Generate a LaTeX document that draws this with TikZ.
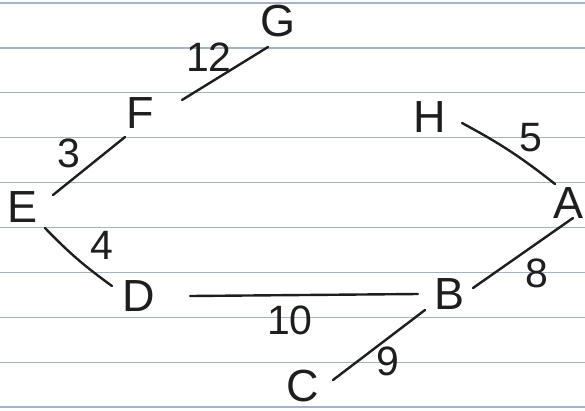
\documentclass[tikz,border=0pt]{standalone}
\usepackage{fontspec}
\setmainfont{Liberation Sans}
\usetikzlibrary{calc}
\definecolor{ink}{HTML}{1E1E1E}
\definecolor{rule}{HTML}{A3B3CC}
\tikzset{
  vertex/.style={inner sep=0pt, text=ink, font=\fontsize{45}{45}\selectfont},
  weight/.style={inner sep=0pt, text=ink, font=\fontsize{41}{41}\selectfont},
  edge/.style={draw=ink, line width=2.4pt, line cap=round},
  ruled/.style={draw=rule, line width=1.3pt}
}
\begin{document}
\begin{tikzpicture}[x=1pt,y=-1pt]
\fill[white] (0,0) rectangle (585,410);
\useasboundingbox (0,0) rectangle (585,410);
\foreach \k in {0,...,9} {
  \draw[ruled] (0,{3+44.9*\k}) -- (585,{3+44.9*\k});
}
% vertices
\node[vertex] (G) at (278,21) {G};
\node[vertex] (F) at (140,113) {F};
\node[vertex] (H) at (430,117) {H};
\node[vertex] (E) at (23,207) {E};
\node[vertex] (A) at (568,203) {A};
\node[vertex] (D) at (139,296) {D};
\node[vertex] (B) at (449,294) {B};
\node[vertex] (C) at (303,386) {C};
% edges
\draw[edge] ($(F)+(42,-13)$) -- ($(G)+(-10,26)$);
\draw[edge] ($(E)+(30,-12)$) -- ($(F)+(-15,24)$);
\draw[edge] ($(H)+(32,6)$) to[bend left=5] ($(A)+(-13,-19)$);
\draw[edge] ($(E)+(22,21)$) to[bend right=5] ($(D)+(-27,-10)$);
\draw[edge] ($(D)+(51,0)$) -- ($(B)+(-31,0)$);
\draw[edge] ($(A)+(5,15)$) -- ($(B)+(24,-6)$);
\draw[edge] ($(B)+(-24,16)$) -- ($(C)+(30,-6)$);
% weights
\node[weight] (w12) at (209,57) {12};
\node[weight] (w3) at (69,153) {3};
\node[weight] (w5) at (531,138) {5};
\node[weight] (w4) at (102,245) {4};
\node[weight] (w10) at (290,320) {10};
\node[weight] (w8) at (537,273) {8};
\node[weight] (w9) at (388,361) {9};
\end{tikzpicture}
\end{document}
